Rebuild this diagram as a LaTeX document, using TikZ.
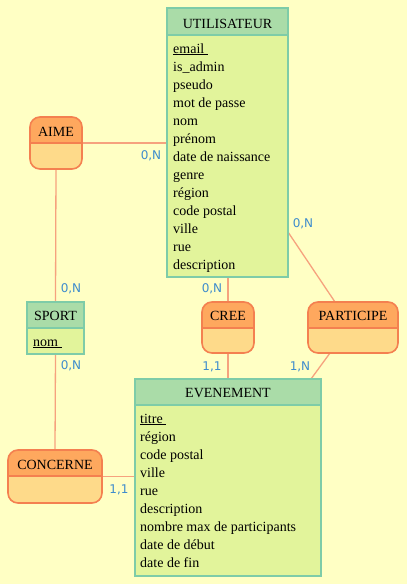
\documentclass[tikz,border=0pt]{standalone}
\usepackage{fontspec}
\setmainfont{Liberation Serif}
\newfontfamily\cardfont{DejaVu Sans}
\usetikzlibrary{calc}
\definecolor{bgc}{RGB}{255,255,196}
\definecolor{enthd}{RGB}{170,220,168}
\definecolor{entbd}{RGB}{226,244,155}
\definecolor{entln}{RGB}{126,204,168}
\definecolor{asshd}{RGB}{254,168,94}
\definecolor{assbd}{RGB}{254,218,138}
\definecolor{assln}{RGB}{244,128,80}
\definecolor{lnk}{RGB}{246,162,126}
\definecolor{card}{RGB}{62,140,205}
\tikzset{
  box/.style={inner sep=0pt, outer sep=0pt, draw=none},
  link/.style={draw=lnk, line width=1.3pt},
  ttl/.style={anchor=base, inner sep=0pt, font=\fontsize{14}{18}\selectfont},
  attr/.style={anchor=base west, inner sep=0pt, font=\fontsize{14}{18}\selectfont},
  cardl/.style={inner sep=0pt, text=card, font=\cardfont\fontsize{12}{14}\selectfont},
  entborder/.style={draw=entln, line width=1.6pt},
  assborder/.style={draw=assln, line width=1.6pt, rounded corners=10pt},
}
\newcommand{\entdraw}[2]{% name, header height
  \fill[entbd] (#1.north west) rectangle (#1.south east);
  \fill[enthd] (#1.north west) rectangle ([yshift=-#2pt]#1.north east);
  \draw[entln, line width=1.2pt] ([yshift=-#2pt]#1.north west) -- ([yshift=-#2pt]#1.north east);
  \draw[entborder] (#1.north west) rectangle (#1.south east);
}
\newcommand{\assdraw}[2]{% name, header height
  \fill[assbd, rounded corners=10pt] (#1.north west) rectangle (#1.south east);
  \begin{scope}
    \clip (#1.north west) rectangle ([yshift=-#2pt]#1.north east);
    \fill[asshd, rounded corners=10pt] (#1.north west) rectangle (#1.south east);
  \end{scope}
  \draw[assln, line width=1.2pt] ([yshift=-#2pt]#1.north west) -- ([yshift=-#2pt]#1.north east);
  \draw[assborder] (#1.north west) rectangle (#1.south east);
}
\begin{document}
\begin{tikzpicture}[x=1pt, y=-1pt]
\fill[bgc] (0,0) rectangle (407,584);
\useasboundingbox (0,0) rectangle (407,584);
% box placeholders
\node[box, minimum width=121pt, minimum height=269pt] (util) at (227.5,142.5) {};
\node[box, minimum width=57pt, minimum height=52pt] (sport) at (55.5,328) {};
\node[box, minimum width=186pt, minimum height=197pt] (even) at (228,477.5) {};
\node[box, minimum width=52pt, minimum height=52pt] (aime) at (56,143) {};
\node[box, minimum width=52pt, minimum height=51pt] (cree) at (228,327.5) {};
\node[box, minimum width=90pt, minimum height=51pt] (part) at (353,327.5) {};
\node[box, minimum width=94pt, minimum height=53pt] (conc) at (55,476.5) {};
% links
\draw[link] (aime.east) -- (aime.east -| util.west);
\draw[link] (aime.south) -- (sport.north);
\draw[link] (sport.south) -- (conc.north);
\draw[link] (conc.east) -- (conc.east -| even.west);
\draw[link] (util.south -| cree.north) -- (cree.north);
\draw[link] (cree.south) -- (cree.south |- even.north);
\draw[link] ([yshift=-89.5pt]util.east) -- ([xshift=-18pt]part.north);
\draw[link] ([xshift=-23pt]part.south) -- ([xshift=-10pt]even.north east);
% entities
\entdraw{util}{27}
\entdraw{sport}{26}
\entdraw{even}{26}
% associations
\assdraw{aime}{26}
\assdraw{cree}{26}
\assdraw{part}{26}
\assdraw{conc}{26}
% titles
\node[ttl] (tutil) at (227.5,28) {UTILISATEUR};
\node[ttl] (tsport) at (55.5,320) {SPORT};
\node[ttl] (teven) at (228,397) {EVENEMENT};
\node[ttl] (taime) at (56,136) {AIME};
\node[ttl] (tcree) at (228,320) {CREE};
\node[ttl] (tpart) at (353,320) {PARTICIPE};
\node[ttl] (tconc) at (55,469) {CONCERNE};
% attributes UTILISATEUR
\node[attr] (u1) at (173,53) {\underline{email\ }};
\node[attr] (u2) at (173,71) {is\_admin};
\node[attr] (u3) at (173,89) {pseudo};
\node[attr] (u4) at (173,107) {mot de passe};
\node[attr] (u5) at (173,125) {nom};
\node[attr] (u6) at (173,143) {prénom};
\node[attr] (u7) at (173,161) {date de naissance};
\node[attr] (u8) at (173,179) {genre};
\node[attr] (u9) at (173,197) {région};
\node[attr] (u10) at (173,215) {code postal};
\node[attr] (u11) at (173,233) {ville};
\node[attr] (u12) at (173,251) {rue};
\node[attr] (u13) at (173,269) {description};
% SPORT
\node[attr] (s1) at (33,346) {\underline{nom\ }};
% EVENEMENT
\node[attr] (e1) at (140,423) {\underline{titre\ }};
\node[attr] (e2) at (140,441) {région};
\node[attr] (e3) at (140,459) {code postal};
\node[attr] (e4) at (140,477) {ville};
\node[attr] (e5) at (140,495) {rue};
\node[attr] (e6) at (140,513) {description};
\node[attr] (e7) at (140,531) {nombre max de participants};
\node[attr] (e8) at (140,549) {date de début};
\node[attr] (e9) at (140,567) {date de fin};
% cardinalities
\node[cardl] (c1) at (151,156) {0,N};
\node[cardl] (c2) at (71,289) {0,N};
\node[cardl] (c3) at (71,366) {0,N};
\node[cardl] (c4) at (119,490) {1,1};
\node[cardl] (c5) at (212,289) {0,N};
\node[cardl] (c6) at (212,367) {1,1};
\node[cardl] (c7) at (303,224) {0,N};
\node[cardl] (c8) at (300,367) {1,N};
\end{tikzpicture}
\end{document}
